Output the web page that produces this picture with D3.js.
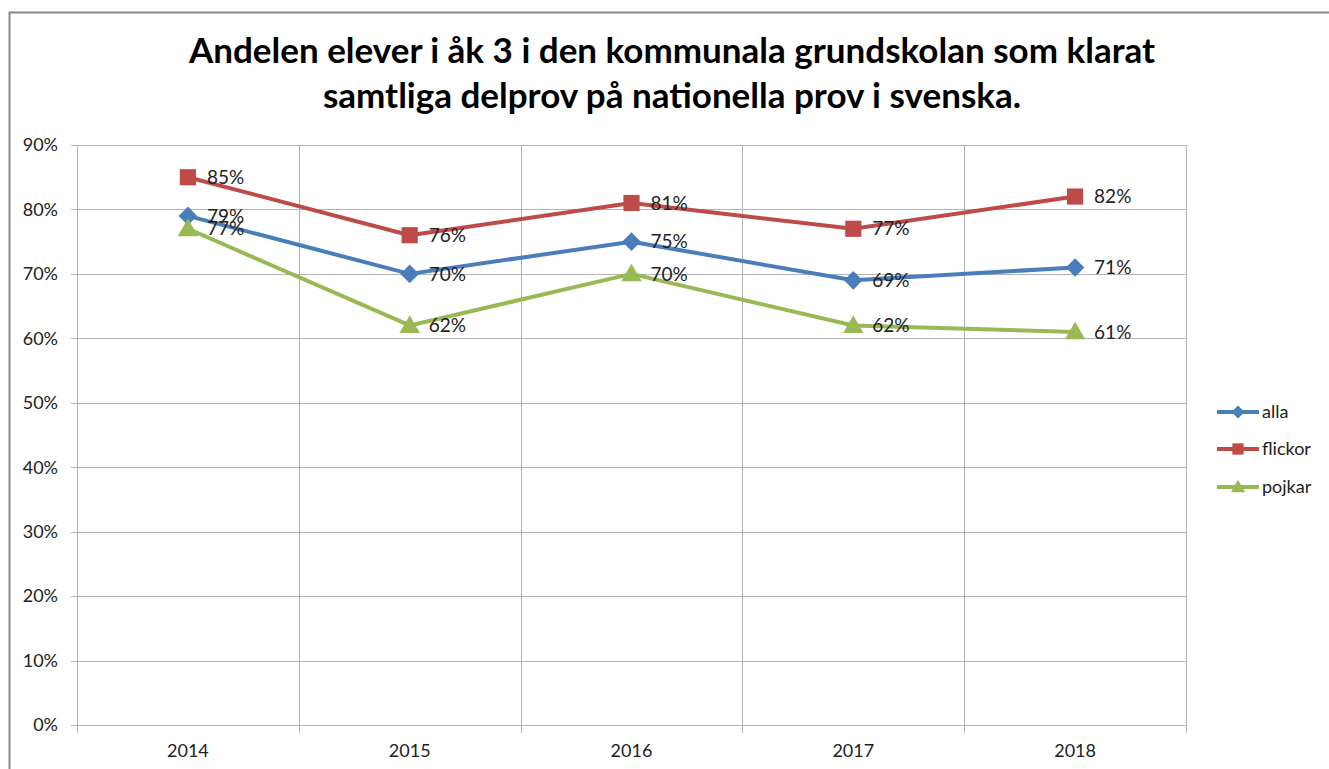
<!DOCTYPE html>
<html><head><meta charset="utf-8">
<script src="https://cdn.jsdelivr.net/npm/d3@7"></script>
<style>body{margin:0;background:#fff;}svg{display:block;font-family:Lato,"Open Sans",sans-serif;}</style>
</head><body>
<svg id="c" width="1329" height="769"></svg>
<script>
const years = ["2014","2015","2016","2017","2018"];
const alla = [0.79,0.70,0.75,0.69,0.71];
const flickor = [0.85,0.76,0.81,0.77,0.82];
const pojkar = [0.77,0.62,0.70,0.62,0.61];
const yTicks = [0,0.1,0.2,0.3,0.4,0.5,0.6,0.7,0.8,0.9];
const titleLines = ["Andelen elever i åk 3 i den kommunala grundskolan som klarat","samtliga delprov på nationella prov i svenska."];
const seriesNames = ["alla","flickor","pojkar"];

const series = [
  {name:seriesNames[0], values:alla, color:"#4a7ebb", shape:"diamond"},
  {name:seriesNames[1], values:flickor, color:"#be4b48", shape:"square"},
  {name:seriesNames[2], values:pojkar, color:"#98b954", shape:"triangle"}
];

const svg = d3.select("#c");
svg.append("rect").attr("x",9.5).attr("y",12.5).attr("width",1340).attr("height",800)
  .attr("fill","none").attr("stroke","#878787").attr("stroke-width",2);

const L=77,R=1186,T=145,B=725;
const x = d3.scaleBand().domain(years).range([L,R]);
const y = d3.scaleLinear().domain([0,0.9]).range([B,T]);
const fmt = d3.format(".0%");

const title = svg.append("text").attr("text-anchor","middle").attr("font-weight","bold")
  .attr("font-size",35).attr("fill","#000");
titleLines.forEach((t,i)=>title.append("tspan").attr("x",672).attr("y",63+i*45).text(t));

const g = svg.append("g");
g.selectAll(".hg").data(yTicks).join("line")
  .attr("x1",L-6).attr("x2",R).attr("y1",d=>Math.round(y(d))+0.5).attr("y2",d=>Math.round(y(d))+0.5)
  .attr("stroke","#b3b3b3").attr("stroke-width",1);
const vx = years.map(d=>x(d)).concat([R]);
g.selectAll(".vg").data(vx).join("line")
  .attr("x1",d=>Math.round(d)+0.5).attr("x2",d=>Math.round(d)+0.5).attr("y1",T).attr("y2",B+8)
  .attr("stroke","#b3b3b3").attr("stroke-width",1);

svg.selectAll(".yl").data(yTicks).join("text")
  .attr("x",58).attr("y",d=>y(d)).attr("dy","0.35em").attr("text-anchor","end")
  .attr("font-size",18).attr("fill","#222").text(d=>fmt(d));
svg.selectAll(".xl").data(years).join("text")
  .attr("x",d=>x(d)+x.bandwidth()/2).attr("y",757).attr("text-anchor","middle")
  .attr("font-size",18).attr("fill","#222").text(d=>d);

const cx = d=>x(d)+x.bandwidth()/2;
const line = d3.line().x((d,i)=>cx(years[i])).y(d=>y(d));
function marker(shape, s){
  if(shape==="diamond") return `M0,${-s}L${s},0L0,${s}L${-s},0Z`;
  if(shape==="square") return `M${-s*0.87},${-s*0.87}H${s*0.87}V${s*0.87}H${-s*0.87}Z`;
  return `M0,${-s*1.1}L${s*1.1},${s*0.8}L${-s*1.1},${s*0.8}Z`;
}
const msize = 9.3;

series.forEach(s=>{
  svg.append("path").datum(s.values).attr("d",line).attr("fill","none")
    .attr("stroke",s.color).attr("stroke-width",4).attr("stroke-linejoin","round");
});
series.forEach(s=>{
  svg.selectAll(null).data(s.values).join("path")
    .attr("transform",(d,i)=>`translate(${cx(years[i])},${y(d)})`)
    .attr("d",marker(s.shape,msize)).attr("fill",s.color);
});
series.forEach(s=>{
  svg.selectAll(null).data(s.values).join("text")
    .attr("x",(d,i)=>cx(years[i])+19).attr("y",d=>y(d)).attr("dy","0.35em")
    .attr("font-size",19).attr("fill","#222").text(d=>fmt(d));
});

const ly=[412,449,487];
series.forEach((s,i)=>{
  const lg = svg.append("g").attr("transform",`translate(0,${ly[i]})`);
  lg.append("line").attr("x1",1217).attr("x2",1259).attr("y1",0).attr("y2",0).attr("stroke",s.color).attr("stroke-width",4);
  lg.append("path").attr("transform","translate(1238,0)").attr("d",marker(s.shape,6.5)).attr("fill",s.color);
  lg.append("text").attr("x",1262).attr("y",0).attr("dy","0.35em").attr("font-size",18).attr("fill","#222").text(s.name);
});
</script>
</body></html>
